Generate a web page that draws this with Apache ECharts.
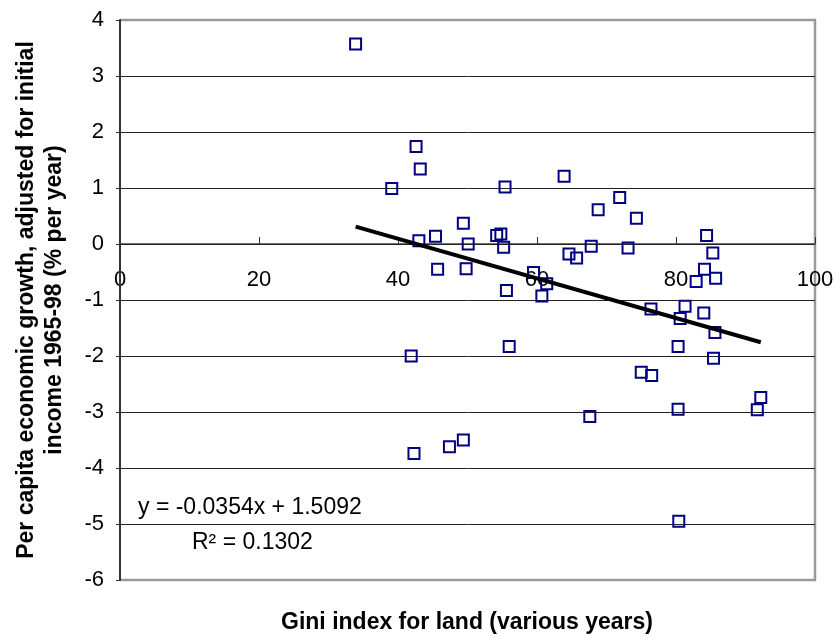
<!DOCTYPE html>
<html>
<head>
<meta charset="utf-8">
<script src="https://cdn.jsdelivr.net/npm/echarts@6/dist/echarts.min.js"></script>
<style>
  html, body { margin: 0; padding: 0; background: #fff; }
  #chart { width: 840px; height: 640px; }
</style>
</head>
<body>
<div id="chart"></div>
<script>
// Gini index for land (x) and adjusted per capita growth 1965-98 (y)
const giniIndex = [
  33.9, 42.6, 43.2, 39.1, 43.0, 45.4, 45.7, 49.4, 50.1, 49.8,
  54.2, 54.8, 55.2, 55.4, 55.6, 59.5, 61.4, 60.7, 63.9, 64.6,
  65.7, 67.8, 68.8, 71.9, 74.3, 73.1, 84.4, 85.3, 84.1, 85.7,
  82.9, 76.4, 81.3, 80.6, 84.0, 85.6, 56.0, 80.3, 85.4, 75.0,
  76.5, 92.2, 91.7, 80.3, 67.6, 49.4, 41.9, 42.3, 47.4, 80.4
]
const growthRate = [
  3.57, 1.74, 1.34, 0.99, 0.06, 0.14, -0.45, 0.37, 0.0, -0.44,
  0.15, 0.18, -0.06, 1.02, -0.83, -0.51, -0.71, -0.93, 1.21, -0.18,
  -0.25, -0.04, 0.61, 0.83, 0.46, -0.07, 0.15, -0.16, -0.45, -0.61,
  -0.67, -1.16, -1.11, -1.33, -1.23, -1.58, -1.83, -1.83, -2.04, -2.29,
  -2.35, -2.74, -2.96, -2.95, -3.08, -3.5, -2.0, -3.74, -3.62, -4.95
]

// x tick labels sit on the zero line, under the axis
const xTicks = [0, 20, 40, 60, 80, 100]

// linear trend as reported on the chart
const trendSlope = -0.0354
const trendIntercept = 1.5092
const trendLabel = 'y = -0.0354x + 1.5092'
const r2Label = 'R² = 0.1302'

const xTitle = 'Gini index for land (various years)'
const yTitle = 'Per capita economic growth, adjusted for initial\nincome 1965-98 (% per year)'

const FONT = "'Liberation Sans', Arial, sans-serif"

const points = giniIndex.map((g, i) => [g, growthRate[i]])
const xMin = Math.min(...giniIndex)
const xMax = Math.max(...giniIndex)
const trendLine = [xMin, xMax].map(x => [x, trendSlope * x + trendIntercept])

const chart = echarts.init(document.getElementById('chart'))
chart.setOption({
  animation: false,
  backgroundColor: '#fff',
  grid: { left: 120, top: 20, right: 25, bottom: 60 },
  xAxis: {
    type: 'value',
    min: 0, max: 100, interval: 20,
    axisLine: { onZero: true, lineStyle: { color: '#707070', width: 2 } },
    axisTick: { show: true, inside: true, length: 7, lineStyle: { color: '#333', width: 1 } },
    axisLabel: { show: false },
    splitLine: { show: false },
    z: 5,
  },
  yAxis: {
    type: 'value',
    min: -6, max: 4, interval: 1,
    axisLine: { show: true, onZero: false, lineStyle: { color: '#333', width: 2 } },
    axisTick: { show: true, length: 4, lineStyle: { color: '#333' } },
    axisLabel: { color: '#000', fontSize: 22, fontFamily: FONT, margin: 16 },
    splitLine: { show: true, showMinLine: false, showMaxLine: false, lineStyle: { color: '#222', width: 1 } },
    z: 6,
  },
  series: [
    {
      type: 'scatter',
      name: 'ticks',
      data: xTicks.map(v => [v, 0]),
      symbolSize: 0,
      silent: true,
      itemStyle: { opacity: 1 },
      label: {
        show: true, position: 'bottom', distance: 25,
        formatter: p => String(p.value[0]),
        color: '#000', fontSize: 22, fontFamily: FONT,
        textBorderWidth: 0, opacity: 1,
      },
      z: 4,
    },
    {
      type: 'scatter',
      data: points,
      symbol: 'rect',
      symbolSize: 11,
      itemStyle: { color: 'rgba(0,0,0,0)', borderColor: '#000080', borderWidth: 2, opacity: 1 },
      z: 7,
    },
    {
      type: 'line',
      data: trendLine,
      symbol: 'none',
      lineStyle: { color: '#000', width: 4 },
      z: 8,
    },
  ],
  graphic: [
    {
      id: 'ytitle',
      type: 'text',
      x: 41, y: 300,
      rotation: Math.PI / 2,
      style: {
        text: yTitle,
        fontSize: 23, fontWeight: 'bold', fontFamily: FONT,
        fill: '#000', align: 'center', verticalAlign: 'middle', lineHeight: 28,
      },
    },
    {
      id: 'xtitle',
      type: 'text',
      x: 467, y: 623,
      style: {
        text: xTitle,
        fontSize: 23, fontWeight: 'bold', fontFamily: FONT,
        fill: '#000', align: 'center', verticalAlign: 'middle',
      },
    },
    {
      id: 'eq',
      type: 'text',
      x: 138, y: 508,
      style: { text: trendLabel, fontSize: 23, fontFamily: FONT, fill: '#000', verticalAlign: 'middle' },
    },
    {
      id: 'r2',
      type: 'text',
      x: 192, y: 543,
      style: { text: r2Label, fontSize: 23, fontFamily: FONT, fill: '#000', verticalAlign: 'middle' },
    },
  ],
})

// gray frame on top / right / bottom, placed from the axis scales
const topLeft = chart.convertToPixel({ gridIndex: 0 }, [0, 4])
const bottomRight = chart.convertToPixel({ gridIndex: 0 }, [100, -6])
chart.setOption({
  graphic: [
    {
      id: 'frame',
      type: 'polyline',
      z: 3,
      shape: {
        points: [
          [topLeft[0], topLeft[1]],
          [bottomRight[0], topLeft[1]],
          [bottomRight[0], bottomRight[1]],
          [topLeft[0], bottomRight[1]],
        ],
      },
      style: { stroke: '#9a9a9a', lineWidth: 2.5, fill: null },
    },
  ],
})
</script>
</body>
</html>
